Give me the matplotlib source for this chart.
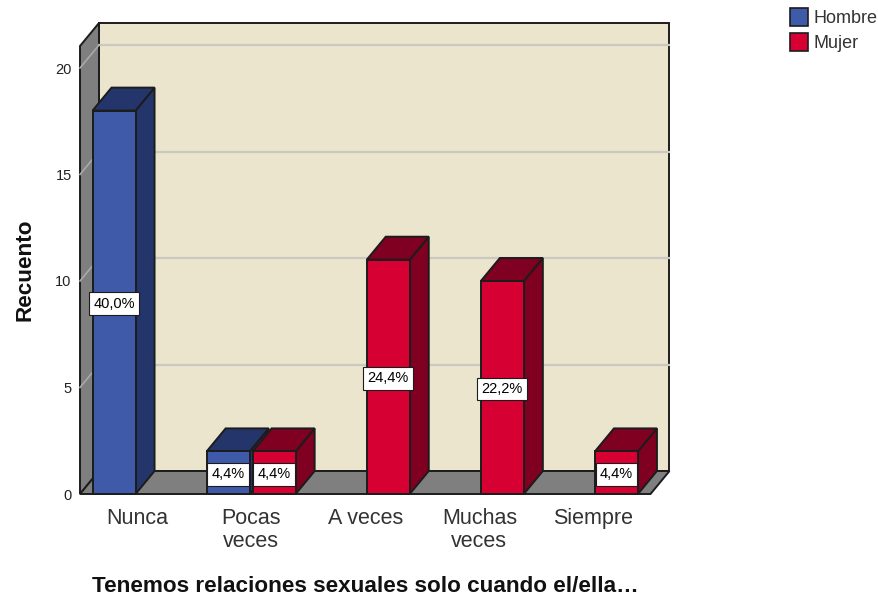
import numpy as np
import matplotlib
matplotlib.use('Agg')
import matplotlib.pyplot as plt
from matplotlib.patches import Patch, Polygon

plt.rcParams['font.family'] = ['Liberation Sans', 'DejaVu Sans']

categories = ['Nunca', 'Pocas\nveces', 'A veces', 'Muchas\nveces', 'Siempre']
hombre = [18, 2, 0, 0, 0]
mujer = [0, 2, 11, 10, 2]
hombre_pct = ['40,0%', '4,4%', '', '', '']
mujer_pct = ['', '4,4%', '24,4%', '22,2%', '4,4%']
yticks = [0, 5, 10, 15, 20]

# Pixel geometry of the 3D box
W, H = 879, 596
LEFT, RIGHT, BOTTOM, TOP = 80, 650.5, 494, 46
UNITS_Y = 21.3
UNITS_X = (RIGHT - LEFT) / 5
DX = 19 / UNITS_X
DY = 23 / UNITS_Y
BAR_W = 43 / UNITS_X
OFFSET = 23 / UNITS_X

EDGE = '#1c1c1c'
WALL = '#ebe5ce'
GRAY = '#7f7f7f'
GRID = '#c9c9c2'
GRID_SIDE = '#a9a9a9'

fig = plt.figure(figsize=(W / 100, H / 100), dpi=100)
ax = fig.add_axes([LEFT / W, 1 - BOTTOM / H, (RIGHT - LEFT) / W, (BOTTOM - TOP) / H])
xmin, xmax = -0.5, 4.5
ymax = (BOTTOM - TOP) / UNITS_Y
ax.set_xlim(xmin, xmax)
ax.set_ylim(0, ymax)
for s in ax.spines.values():
    s.set_visible(False)
ax.patch.set_visible(False)


def poly(pts, color, z, lw=1.4):
    ax.add_patch(Polygon(pts, closed=True, facecolor=color, edgecolor=EDGE, lw=lw,
                         zorder=z, clip_on=False, joinstyle='miter'))


# back wall, left wall, floor
poly([(xmin + DX, DY), (xmax + DX, DY), (xmax + DX, ymax + DY), (xmin + DX, ymax + DY)], WALL, 1)
poly([(xmin, 0), (xmin + DX, DY), (xmin + DX, ymax + DY), (xmin, ymax)], GRAY, 1)
poly([(xmin, 0), (xmax, 0), (xmax + DX, DY), (xmin + DX, DY)], GRAY, 1.5)

# grid on the walls
for t in yticks[1:]:
    ax.plot([xmin + DX, xmax + DX], [t + DY, t + DY], color=GRID, lw=1.6,
            zorder=1.2, clip_on=False)
    ax.plot([xmin, xmin + DX], [t, t + DY], color=GRID_SIDE, lw=1.2,
            zorder=1.2, clip_on=False)


def bar3d(xc, v, front, dark, z):
    x0, x1 = xc - BAR_W / 2, xc + BAR_W / 2
    poly([(x1, 0), (x1 + DX, DY), (x1 + DX, v + DY), (x1, v)], dark, z)
    poly([(x0, v), (x1, v), (x1 + DX, v + DY), (x0 + DX, v + DY)], dark, z)
    poly([(x0, 0), (x1, 0), (x1, v), (x0, v)], front, z + 0.1)


def label(xc, v, txt, z):
    ax.text(xc, v / 2, txt, ha='center', va='center_baseline', fontsize=10.5, color='black', zorder=z,
            bbox=dict(boxstyle='square,pad=0.3', facecolor='white', edgecolor=EDGE, lw=0.8))


x = np.arange(len(categories))
for i in x:
    if hombre[i] > 0:
        bar3d(x[i] - OFFSET, hombre[i], '#3e5aa8', '#24356b', 2 + i)
        label(x[i] - OFFSET, hombre[i], hombre_pct[i], 2.5 + i)
    if mujer[i] > 0:
        bar3d(x[i] + OFFSET, mujer[i], '#d70033', '#7f0020', 2.6 + i)
        label(x[i] + OFFSET, mujer[i], mujer_pct[i], 3 + i)

ax.set_xticks(x)
ax.set_xticklabels(categories, fontsize=15.5, color='#333333', linespacing=1.13)
ax.set_yticks(yticks)
ax.set_yticklabels([str(t) for t in yticks], fontsize=10.5, color='#222222')
ax.tick_params(axis='both', length=0)
ax.tick_params(axis='x', pad=10)
ax.tick_params(axis='y', pad=6)

fig.text(25.5 / W, 1 - 270 / H, 'Recuento', rotation=90, fontsize=16.2, fontweight='bold',
         ha='center', va='center', color='#111111')
fig.text(365 / W, 1 - 586 / H, 'Tenemos relaciones sexuales solo cuando el/ella\u2026',
         fontsize=16.2, fontweight='bold', ha='center', va='center', color='#111111')

handles = [Patch(facecolor='#3e5aa8', edgecolor=EDGE, lw=1.2, label='Hombre'),
           Patch(facecolor='#d70033', edgecolor=EDGE, lw=1.2, label='Mujer')]
fig.legend(handles=handles, loc='upper left', bbox_to_anchor=(786.4 / W, 1 - 4.4 / H), frameon=False,
           fontsize=13, labelcolor='#333333', borderpad=0.2, borderaxespad=0, handlelength=1.0,
           handleheight=1.15, handletextpad=0.28, labelspacing=0.33)

fig.savefig('out.png', dpi=100)
